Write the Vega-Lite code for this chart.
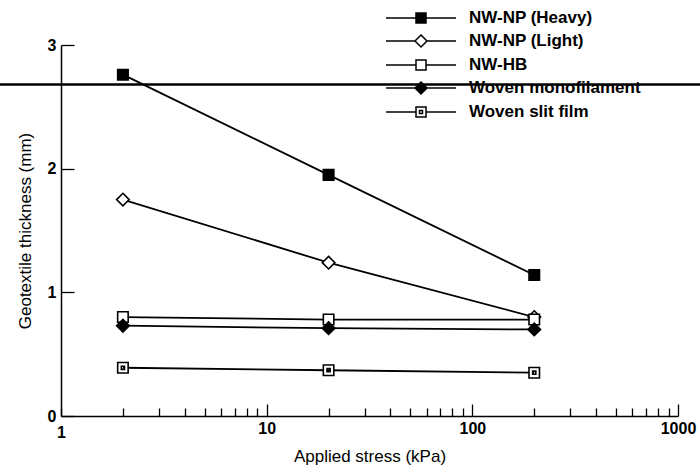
{
  "$schema": "https://vega.github.io/schema/vega-lite/v6.json",
  "width": 617,
  "height": 371,
  "autosize": "none",
  "padding": {"left": 61, "top": 45, "right": 22, "bottom": 56},
  "background": "white",
  "config": {
    "view": {"stroke": null},
    "font": "Liberation Sans",
    "axis": {
      "domainColor": "black",
      "domainWidth": 1.5,
      "tickColor": "black",
      "tickWidth": 1.3,
      "grid": false,
      "labelColor": "black",
      "labelFont": "Liberation Sans",
      "labelFontSize": 16,
      "labelFontWeight": "bold",
      "titleColor": "#000000",
      "titleFont": "Liberation Sans",
      "titleFontSize": 17,
      "titleFontWeight": "normal"
    }
  },
  "datasets": {
    "points": [
      {"series": "NW-NP (Heavy)", "stress": 2, "thickness": 2.76},
      {"series": "NW-NP (Heavy)", "stress": 20, "thickness": 1.95},
      {"series": "NW-NP (Heavy)", "stress": 200, "thickness": 1.14},
      {"series": "NW-NP (Light)", "stress": 2, "thickness": 1.75},
      {"series": "NW-NP (Light)", "stress": 20, "thickness": 1.24},
      {"series": "NW-NP (Light)", "stress": 200, "thickness": 0.8},
      {"series": "NW-HB", "stress": 2, "thickness": 0.8},
      {"series": "NW-HB", "stress": 20, "thickness": 0.78},
      {"series": "NW-HB", "stress": 200, "thickness": 0.78},
      {"series": "Woven monofilament", "stress": 2, "thickness": 0.73},
      {"series": "Woven monofilament", "stress": 20, "thickness": 0.71},
      {"series": "Woven monofilament", "stress": 200, "thickness": 0.7},
      {"series": "Woven slit film", "stress": 2, "thickness": 0.39},
      {"series": "Woven slit film", "stress": 20, "thickness": 0.37},
      {"series": "Woven slit film", "stress": 200, "thickness": 0.35}
    ],
    "artifact": [
      {"stress": 0.45, "stress2": 1400, "thickness": 2.68}
    ]
  },
  "resolve": {"scale": {"shape": "independent", "fill": "independent", "stroke": "independent"}},
  "layer": [
    {
      "data": {"name": "artifact"},
      "mark": {"type": "rule", "color": "black", "strokeWidth": 2.5},
      "encoding": {
        "x": {"field": "stress", "type": "quantitative", "title": "Applied stress (kPa)",
              "scale": {"type": "log", "domain": [1, 1000], "nice": false}},
        "x2": {"field": "stress2"},
        "y": {"field": "thickness", "type": "quantitative", "title": "Geotextile thickness (mm)",
              "scale": {"domain": [0, 3], "nice": false}}
      }
    },
    {
      "data": {"name": "points"},
      "mark": {"type": "line", "color": "black", "strokeWidth": 1.8},
      "encoding": {
        "x": {"field": "stress", "type": "quantitative", "title": "Applied stress (kPa)",
              "scale": {"type": "log", "domain": [1, 1000], "nice": false},
              "axis": {
                "values": [1,2,3,4,5,6,7,8,9,10,20,30,40,50,60,70,80,90,100,200,300,400,500,600,700,800,900,1000],
                "labelExpr": "indexof([1,10,100,1000], datum.value) >= 0 ? datum.label : ''",
                "format": "d",
                "tickSize": {"condition": {"test": "indexof([10,100,1000], datum.value) >= 0", "value": -12}, "value": -8},
                "labelPadding": 16,
                "titlePadding": 8,
                "titleColor": "#000000",
                "labelFlush": false,
                "labelOverlap": false
              }},
        "y": {"field": "thickness", "type": "quantitative", "title": "Geotextile thickness (mm)",
              "scale": {"domain": [0, 3], "nice": false},
              "axis": {
                "values": [0,0.25,0.5,0.75,1,1.25,1.5,1.75,2,2.25,2.5,2.75,3],
                "labelExpr": "datum.value % 1 === 0 ? datum.label : ''",
                "format": "d",
                "tickSize": {"condition": {"test": "datum.value % 1 === 0", "value": -13}, "value": -9},
                "labelPadding": 18,
                "titlePadding": 13,
                "titleColor": "#000000",
                "labelOverlap": false,
                "labelFlush": false
              }},
        "detail": {"field": "series", "type": "nominal"}
      }
    },
    {
      "data": {"name": "points"},
      "mark": {"type": "point", "filled": true, "stroke": "black", "strokeWidth": 1.6, "opacity": 1, "size": 110},
      "encoding": {
        "x": {"field": "stress", "type": "quantitative", "title": "Applied stress (kPa)"},
        "y": {"field": "thickness", "type": "quantitative", "title": "Geotextile thickness (mm)"},
        "shape": {"field": "series", "type": "nominal", "legend": null,
                  "scale": {"domain": ["NW-NP (Heavy)", "NW-NP (Light)", "NW-HB", "Woven monofilament", "Woven slit film"],
                            "range": ["M-1,-1H1V1H-1Z", "M0,-1.2L1.2,0L0,1.2L-1.2,0Z", "M-1,-1H1V1H-1Z", "M0,-1.2L1.2,0L0,1.2L-1.2,0Z", "M-1,-1H1V1H-1Z M-0.3,-0.3V0.3H0.3V-0.3Z"]}},
        "fill": {"field": "series", "type": "nominal", "legend": null,
                 "scale": {"domain": ["NW-NP (Heavy)", "NW-NP (Light)", "NW-HB", "Woven monofilament", "Woven slit film"],
                           "range": ["black", "white", "white", "black", "white"]}}
      }
    },
    {
      "data": {"name": "points"},
      "transform": [{"filter": "false"}],
      "mark": {"type": "point", "filled": true, "strokeWidth": 1.5, "opacity": 1},
      "encoding": {
        "x": {"field": "stress", "type": "quantitative", "title": "Applied stress (kPa)"},
        "y": {"field": "thickness", "type": "quantitative", "title": "Geotextile thickness (mm)"},
        "shape": {"field": "series", "type": "nominal",
                  "scale": {"domain": ["NW-NP (Heavy)", "NW-NP (Light)", "NW-HB", "Woven monofilament", "Woven slit film"],
                            "range": [
                              "M-3.5,0H-0.5M0.5,0H3.5M-0.5,-0.5H0.5V0.5H-0.5Z",
                              "M-3.5,0H-0.6M0.6,0H3.5M0,-0.6L0.6,0L0,0.6L-0.6,0Z",
                              "M-3.5,0H-0.5M0.5,0H3.5M-0.5,-0.5H0.5V0.5H-0.5Z",
                              "M-3.5,0H-0.6M0.6,0H3.5M0,-0.6L0.6,0L0,0.6L-0.6,0Z",
                              "M-3.5,0H-0.5M0.5,0H3.5M-0.5,-0.5H0.5V0.5H-0.5Z M-0.15,-0.15V0.15H0.15V-0.15Z"
                            ]},
                  "legend": {
                    "title": null, "orient": "none", "legendX": 349, "legendY": -38,
                    "padding": 0, "rowPadding": 4, "symbolSize": 400, "labelOffset": 37,
                    "labelFontSize": 17, "labelFontWeight": "bold", "labelFont": "Liberation Sans", "labelColor": "black",
                    "symbolStrokeWidth": 1.5, "labelLimit": 300
                  }},
        "fill": {"field": "series", "type": "nominal",
                 "scale": {"domain": ["NW-NP (Heavy)", "NW-NP (Light)", "NW-HB", "Woven monofilament", "Woven slit film"],
                           "range": ["black", "white", "white", "black", "white"]},
                 "legend": {
                    "title": null, "orient": "none", "legendX": 349, "legendY": -38,
                    "padding": 0, "rowPadding": 4, "symbolSize": 400, "labelOffset": 37,
                    "labelFontSize": 17, "labelFontWeight": "bold", "labelFont": "Liberation Sans", "labelColor": "black",
                    "symbolStrokeWidth": 1.5, "labelLimit": 300
                  }},
        "stroke": {"field": "series", "type": "nominal",
                 "scale": {"domain": ["NW-NP (Heavy)", "NW-NP (Light)", "NW-HB", "Woven monofilament", "Woven slit film"],
                           "range": ["black", "black", "black", "black", "black"]},
                 "legend": {
                    "title": null, "orient": "none", "legendX": 349, "legendY": -38,
                    "padding": 0, "rowPadding": 4, "symbolSize": 400, "labelOffset": 37,
                    "labelFontSize": 17, "labelFontWeight": "bold", "labelFont": "Liberation Sans", "labelColor": "black",
                    "symbolStrokeWidth": 1.5, "labelLimit": 300
                  }}
      }
    }
  ]
}
